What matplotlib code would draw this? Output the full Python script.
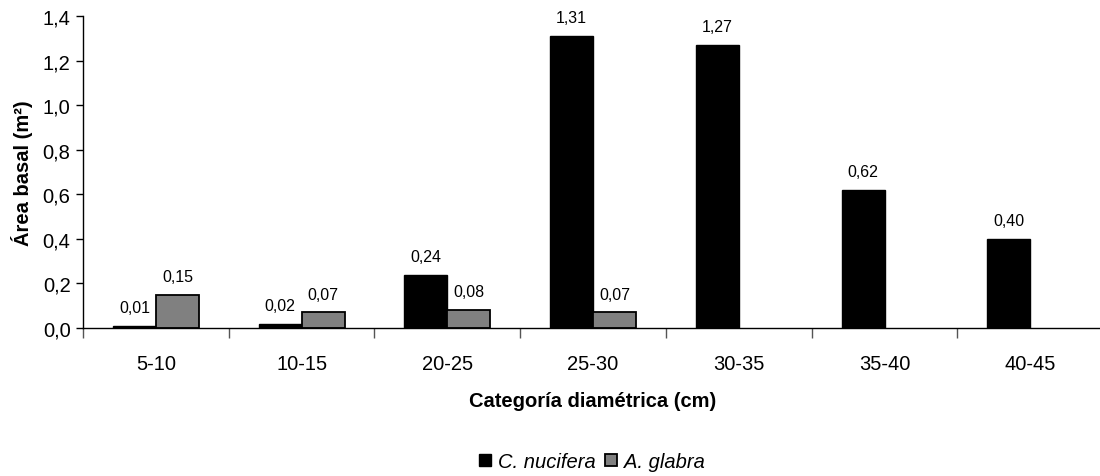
import matplotlib
matplotlib.use("Agg")
import matplotlib.pyplot as plt
import numpy as np

plt.rcParams['font.family'] = ['Liberation Sans', 'DejaVu Sans']

categories = ['5-10', '10-15', '20-25', '25-30', '30-35', '35-40', '40-45']
nucifera = [0.01, 0.02, 0.24, 1.31, 1.27, 0.62, 0.40]
glabra = [0.15, 0.07, 0.08, 0.07, None, None, None]
yticks = [0.0, 0.2, 0.4, 0.6, 0.8, 1.0, 1.2, 1.4]


def fmt(v, nd):
    return f'{v:.{nd}f}'.replace('.', ',')


fig = plt.figure(figsize=(11, 4.77), dpi=100)
ax = fig.add_axes([0.0755, 0.3103, 0.9273, 0.654])

x = np.arange(len(categories))
w = 0.295
gx = [i for i, v in enumerate(glabra) if v is not None]
gv = [v for v in glabra if v is not None]

b1 = ax.bar(x - w / 2, nucifera, w, color='black', edgecolor='black', linewidth=1,
            label='C. nucifera')
b2 = ax.bar(np.array(gx) + w / 2, gv, w, color='#808080', edgecolor='black', linewidth=1.3,
            label='A. glabra')

for bars, vals in ((b1, nucifera), (b2, gv)):
    for r, v in zip(bars, vals):
        ax.annotate(fmt(v, 2), (r.get_x() + r.get_width() / 2, r.get_height()),
                    xytext=(0, 10), textcoords='offset points', ha='center', va='baseline',
                    fontsize=11.5)

ax.set_xlim(-0.5, len(categories) - 0.5)
ax.set_ylim(0, 1.4)
ax.set_yticks(yticks)
ax.set_yticklabels([fmt(v, 1) for v in yticks], fontsize=14.5)
ax.set_xticks(x)
ax.set_xticklabels(categories, fontsize=14.5)
ax.set_xticks(np.arange(len(categories) + 1) - 0.5, minor=True)
ax.tick_params(axis='x', which='major', length=0, pad=19)
ax.tick_params(axis='x', which='minor', length=7, width=1, color='#555555', direction='out')
ax.tick_params(axis='y', length=5, width=1, direction='out', pad=4)

for s in ('top', 'right'):
    ax.spines[s].set_visible(False)
ax.spines['left'].set_linewidth(1)
ax.spines['bottom'].set_linewidth(1)

ax.set_xlabel('Categoría diamétrica (cm)', fontsize=14.5, fontweight='bold')
ax.xaxis.set_label_coords(0.5, -0.203)
ax.set_ylabel('Área basal (m²)', fontsize=14.5, fontweight='bold')
ax.yaxis.set_label_coords(-0.049, 0.5)

leg = fig.legend(handles=[b1, b2], loc='center', bbox_to_anchor=(0.538, 0.03), ncol=2,
                 frameon=False, prop={'style': 'italic', 'size': 14.5},
                 handlelength=0.6, handleheight=0.6, handletextpad=0.35, columnspacing=0.45)

fig.savefig('out.png', dpi=100)
